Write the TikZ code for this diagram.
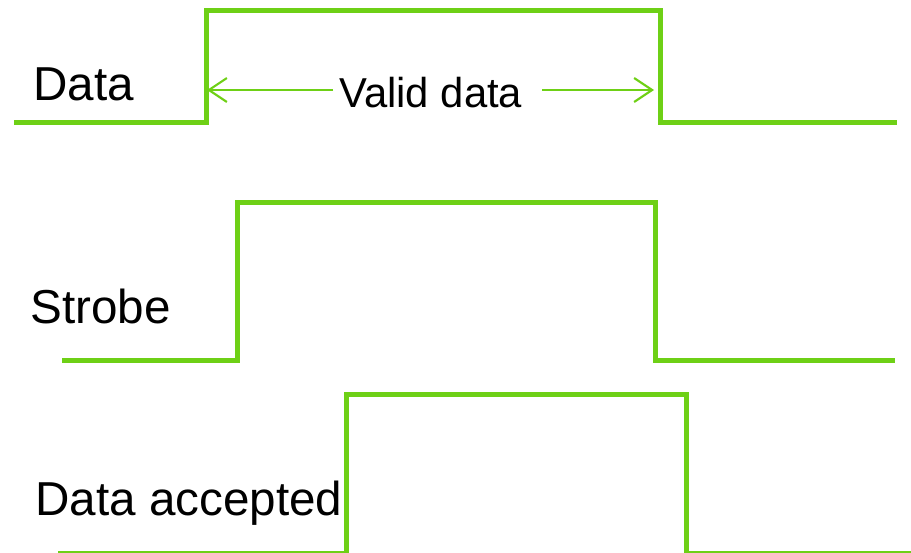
\documentclass[tikz,border=0pt]{standalone}
\usepackage{fontspec}
\setmainfont{Liberation Sans}
\usepackage{xcolor}
\usetikzlibrary{arrows.meta,positioning}
\definecolor{sig}{RGB}{110,208,22}

\begin{document}
\begin{tikzpicture}[
  x=0.02cm, y=-0.02cm,
  wave/.style={draw=sig, line width=2.85pt, line join=miter},
  lbl/.style={anchor=base west, inner sep=0pt, font=\fontsize{27.1}{32}\selectfont},
  arr/.style={draw=sig, line width=1.2pt, -{Straight Barb[length=3.6mm, width=4.8mm, line width=1.2pt]}}
]
  \useasboundingbox (0,0) rectangle (911,552);

  \node[lbl] (data) at (33,100) {Data};
  \node[lbl] (strobe) at (30,323) {Strobe};
  \node[lbl] (acc) at (35,515) {Data accepted};
  \node[lbl, font=\fontsize{23.8}{28}\selectfont] (valid) at (339,107) {Valid data};

  \draw[wave] (14,122) -- (206,122) -- (206,10) -- (660,10) -- (660,122) -- (897,122);
  \draw[wave] (62,360) -- (237,360) -- (237,202) -- (655,202) -- (655,360) -- (895,360);
  \draw[wave] (58,553) -- (346,553) -- (346,394) -- (686,394) -- (686,553) -- (915,553);

  \coordinate (vl) at (333,90);
  \coordinate (vr) at (542,90);
  \coordinate (tl) at (207,90);
  \coordinate (tr) at (654,90);
  \draw[arr] (vl) -- (tl);
  \draw[arr] (vr) -- (tr);
\end{tikzpicture}
\end{document}
